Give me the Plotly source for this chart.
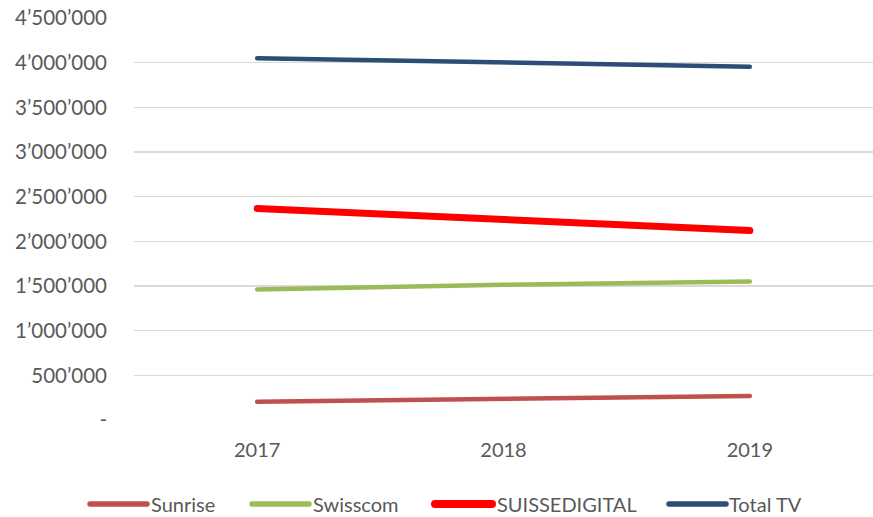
import plotly.graph_objects as go

years = ["2017", "2018", "2019"]
sunrise = [205000, 235000, 269000]
swisscom = [1462000, 1514000, 1551000]
suissedigital = [2368000, 2236000, 2120000]
total_tv = [4049000, 4000000, 3955000]

series_names = ["Sunrise", "Swisscom", "SUISSEDIGITAL", "Total TV"]
series_values = [sunrise, swisscom, suissedigital, total_tv]
colors = ["#C0504D", "#9BBB59", "#FF0000", "#2C4D75"]
widths = [4.5, 4.5, 7, 4.5]

y_tickvals = [0, 500000, 1000000, 1500000, 2000000, 2500000, 3000000, 3500000, 4000000, 4500000]
y_ticktext = ["-", "500’000", "1’000’000", "1’500’000", "2’000’000", "2’500’000",
              "3’000’000", "3’500’000", "4’000’000", "4’500’000"]

FONT = "Lato"
TXT = "#595959"
W, H = 873, 517
ML, MR, MT, MB = 134, 0, 18, 97
PW, PH = W - ML - MR, H - MT - MB

fig = go.Figure()
for name, vals, c, w in zip(series_names, series_values, colors, widths):
    fig.add_trace(go.Scatter(x=years, y=vals, mode="lines", name=name,
                             line=dict(color=c, width=w), showlegend=False))

# manual legend (long line swatches like the original)
legend_items = [(90, 149), (252, 311), (435, 495), (669, 727)]
ly = 504
for (lx, tx), name, c, w in zip(legend_items, series_names, colors, widths):
    fig.add_shape(type="line", xref="paper", yref="paper",
                  x0=(lx - ML) / PW, x1=(lx + 57 - ML) / PW,
                  y0=(H - MB - ly) / PH, y1=(H - MB - ly) / PH,
                  line=dict(color=c, width=w + 1))
    fig.add_annotation(text=name, xref="paper", yref="paper",
                       x=(tx - ML) / PW, y=(H - MB - ly) / PH,
                       xanchor="left", yanchor="middle", showarrow=False,
                       font=dict(family=FONT, size=20, color=TXT))

fig.update_layout(
    width=W, height=H,
    margin=dict(l=ML, r=MR, t=MT, b=MB),
    plot_bgcolor="white", paper_bgcolor="white",
    font=dict(family=FONT, size=20, color=TXT),
    xaxis=dict(type="category", showgrid=False, zeroline=False, showline=False,
               ticks="", ticklabelstandoff=16, range=[-0.5, 2.5],
               tickfont=dict(family=FONT, size=20, color=TXT)),
    yaxis=dict(range=[0, 4500000], tickvals=y_tickvals, ticktext=y_ticktext,
               showgrid=True, gridcolor="#D9D9D9", gridwidth=1.5,
               zeroline=False, showline=False, ticks="", ticklabelstandoff=26,
               tickfont=dict(family=FONT, size=20.5, color=TXT)),
    hovermode=False,
)

fig.write_html(
    "out.html",
    config={"displayModeBar": False, "staticPlot": True},
    post_script=(
        "document.body.style.margin='0';document.body.style.overflow='hidden';"
        "document.querySelectorAll('path.js-line, .shapelayer path').forEach(function(p){"
        "p.style.strokeLinecap='round';});"
    ),
)
